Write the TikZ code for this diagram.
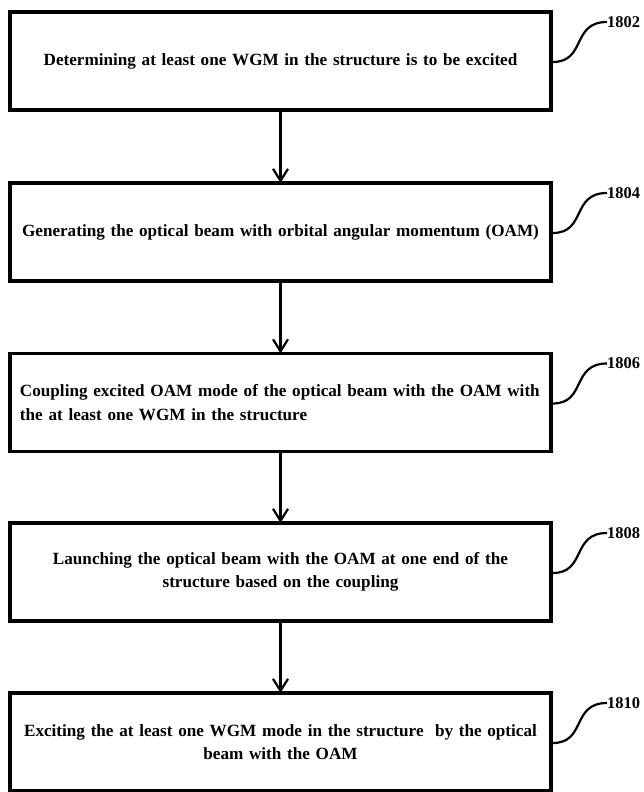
\documentclass[tikz,border=0pt]{standalone}
\usepackage{fontspec}
\setmainfont{Liberation Serif}
\usetikzlibrary{arrows.meta}
\begin{document}
\begin{tikzpicture}[x=1bp,y=-1bp,
  stepbox/.style={draw, line width=3.2bp, minimum width=541bp, minimum height=98bp,
    inner sep=0pt, text width=521bp, align=center,
    font=\bfseries\fontsize{17.2}{23.5}\selectfont},
  arr/.style={-{Straight Barb[length=12bp,width=15bp]}, line width=2.2bp},
  reflabel/.style={anchor=west, inner sep=0pt, font=\bfseries\fontsize{16.5}{19}\selectfont},
  curl/.style={line width=2.2bp}]
\useasboundingbox (0,0) rectangle (644,792);

\node[stepbox] (b1) at (280.5,61) {Determining at least one WGM in the structure is to be excited};
\node[stepbox] (b2) at (280.5,232) {Generating the optical beam with orbital angular momentum (OAM)};
\node[stepbox, align=left] (b3) at (280.5,402.5) {Coupling excited OAM mode of the optical beam with the OAM with\\the at least one WGM in the structure};
\node[stepbox] (b4) at (280.5,572) {Launching the optical beam with the OAM at one end of the\\structure based on the coupling};
\node[stepbox] (b5) at (280.5,742) {Exciting the at least one WGM mode in the structure\ \ by the optical\\beam with the OAM};

\node[reflabel] (l1) at (607,22) {1802};
\node[reflabel] (l2) at (607,193) {1804};
\node[reflabel] (l3) at (607,363.5) {1806};
\node[reflabel] (l4) at (607,533) {1808};
\node[reflabel] (l5) at (607,703) {1810};

\foreach \i in {1,...,5}{
  \draw[curl] ([yshift=-1bp]b\i.east) .. controls +(34,0) and +(-36,0) .. (l\i.west);
}

\draw[arr] (b1.south) -- ([yshift=-1.5bp]b2.north);
\draw[arr] (b2.south) -- ([yshift=-1.5bp]b3.north);
\draw[arr] (b3.south) -- ([yshift=-1.5bp]b4.north);
\draw[arr] (b4.south) -- ([yshift=-1.5bp]b5.north);
\end{tikzpicture}
\end{document}
